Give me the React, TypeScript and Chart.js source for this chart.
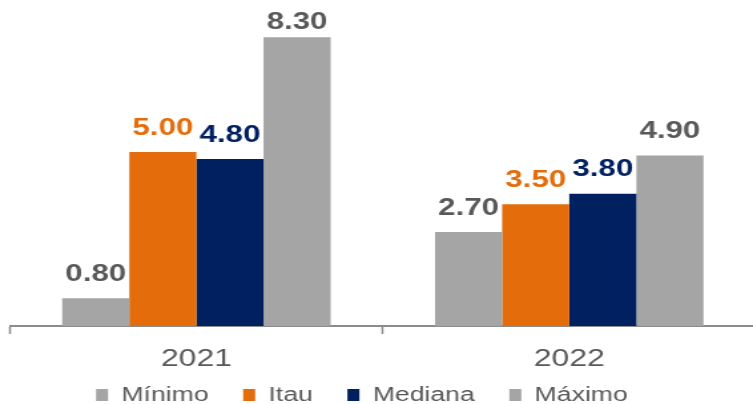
import React, { useEffect, useRef } from 'react';
import { Chart, registerables } from 'chart.js';

Chart.register(...registerables);

// ---- Data ----
const categories = ['2021', '2022'];
const seriesNames = ['Mínimo', 'Itau', 'Mediana', 'Máximo'];
const minimo = [0.8, 2.7];
const itau = [5.0, 3.5];
const mediana = [4.8, 3.8];
const maximo = [8.3, 4.9];
const yMin = 0;
const yMax = 9;

// ---- Styles ----
const barColors = ['#A5A5A5', '#E46C0A', '#002060', '#A5A5A5'];
const labelColors = ['#595959', '#E46C0A', '#002060', '#595959'];
const textGray = '#595959';
const axisGray = '#8C8C8C';
const FONT = "'Liberation Sans', Arial, sans-serif";

// The reference picture is horizontally stretched; draw at a narrower
// internal width and display it stretched.
const INTERNAL_W = 569;
const DISPLAY_W = 757;
const H = 404;

const LEGEND_LEFT = 46.2;
const LEGEND_TOP = 359;

const dataLabels = {
  id: 'dataLabels',
  afterDatasetsDraw(chart: any) {
    const { ctx, chartArea } = chart;
    ctx.save();
    ctx.font = `bold 23.5px ${FONT}`;
    ctx.textAlign = 'center';
    ctx.textBaseline = 'alphabetic';
    chart.data.datasets.forEach((ds: any, di: number) => {
      const meta = chart.getDatasetMeta(di);
      meta.data.forEach((bar: any, i: number) => {
        const v = ds.data[i];
        const y = Math.max(bar.y - 17.5, chartArea.top + 16);
        ctx.fillStyle = labelColors[di];
        ctx.fillText(Number(v).toFixed(2), bar.x, y);
      });
    });
    ctx.restore();
  },
};

const legendPlacer = {
  id: 'legendPlacer',
  afterLayout(chart: any) {
    const lg = chart.legend;
    if (!lg) return;
    lg.left = LEGEND_LEFT;
    lg.right = chart.width;
    lg.top = LEGEND_TOP;
    lg.bottom = chart.height;
    lg.width = lg.right - lg.left;
    lg.height = lg.bottom - lg.top;
  },
};

export default function App() {
  const canvasRef = useRef<HTMLCanvasElement | null>(null);

  useEffect(() => {
    const canvas = canvasRef.current;
    if (!canvas) return;
    const seriesData = [minimo, itau, mediana, maximo];
    const chart = new Chart(canvas, {
      type: 'bar',
      data: {
        labels: categories,
        datasets: seriesNames.map((name, i) => ({
          label: name,
          data: seriesData[i],
          backgroundColor: barColors[i],
          borderColor: barColors[i],
          borderWidth: 0,
          categoryPercentage: 0.72,
          barPercentage: 1.0,
        })),
      },
      options: {
        responsive: false,
        animation: false,
        devicePixelRatio: 1,
        layout: { padding: { left: 7.5, right: 1, top: 13, bottom: 8 } },
        plugins: {
          legend: {
            display: true,
            position: 'bottom',
            align: 'start',
            maxHeight: 20,
            labels: {
              boxWidth: 9,
              boxHeight: 12,
              padding: 26,
              color: textGray,
              font: { size: 20, family: FONT },
            },
          },
          tooltip: { enabled: false },
          title: { display: false },
        },
        scales: {
          x: {
            offset: true,
            afterFit: (scale: any) => {
              scale.height = 50;
            },
            grid: {
              display: true,
              drawOnChartArea: false,
              drawTicks: true,
              tickLength: 8,
              tickWidth: 1.5,
              tickColor: axisGray,
              color: axisGray,
              offset: true,
            },
            border: { display: true, color: axisGray, width: 2 },
            ticks: {
              color: textGray,
              font: { size: 24, family: FONT },
              padding: 11,
              maxRotation: 0,
              autoSkip: false,
            },
          },
          y: {
            display: false,
            min: yMin,
            max: yMax,
          },
        },
      },
      plugins: [dataLabels, legendPlacer],
    } as any);
    return () => chart.destroy();
  }, []);

  return (
    <div
      style={{
        position: 'fixed',
        left: 0,
        top: 0,
        width: 753,
        height: H,
        overflow: 'hidden',
        background: '#ffffff',
      }}
    >
      <canvas
        ref={canvasRef}
        width={INTERNAL_W}
        height={H}
        style={{ display: 'block', width: `${DISPLAY_W}px`, height: `${H}px` }}
      />
    </div>
  );
}
